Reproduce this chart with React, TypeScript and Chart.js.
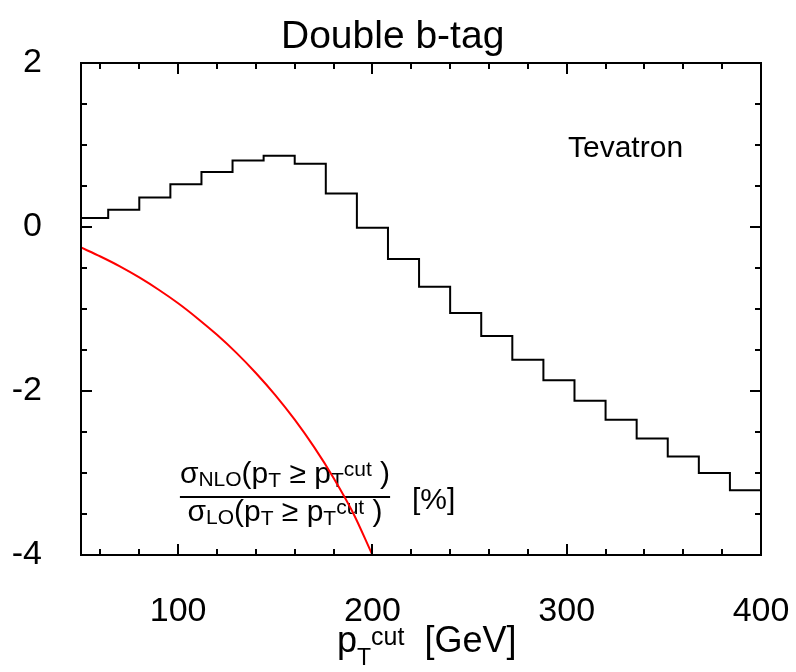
import React, { useEffect, useRef } from "react";
import { Chart, registerables } from "chart.js";

Chart.register(...registerables);

// ---- data ----
const binEdges = [48, 64, 80, 96, 112, 128, 144, 160, 176, 192, 208, 224, 240, 256, 272, 288, 304, 320, 336, 352, 368, 384, 400];
const binValues = [0.11, 0.21, 0.36, 0.52, 0.67, 0.81, 0.87, 0.77, 0.41, -0.01, -0.39, -0.73, -1.05, -1.33, -1.62, -1.87, -2.12, -2.35, -2.58, -2.8, -3.0, -3.21];

const curveX = [50, 60, 70, 80, 90, 100, 110, 120, 130, 140, 150, 160, 170, 180, 190, 200];
const curveY = [-0.25, -0.36, -0.48, -0.615, -0.765, -0.93, -1.115, -1.315, -1.535, -1.78, -2.05, -2.35, -2.685, -3.06, -3.485, -4.0];

const xTickValues = [100, 200, 300, 400];
const yTickValues = [-4, -2, 0, 2];
const xMinorTicks = [60, 80, 120, 140, 160, 180, 220, 240, 260, 280, 320, 340, 360, 380];
const yMinorTicks = [-3.5, -3, -2.5, -1.5, -1, -0.5, 0.5, 1, 1.5];
const xMajorInner = [100, 200, 300];
const yMajorInner = [-2, 0];

const titleText = "Double b-tag";
const annotationText = "Tevatron";

const FONT = "'Liberation Sans', Arial, Helvetica, sans-serif";

type Seg = { t: string; size: number; dy: number };

function richWidth(ctx: CanvasRenderingContext2D, segs: Seg[]) {
  let w = 0;
  for (const s of segs) {
    ctx.font = `${s.size}px ${FONT}`;
    w += ctx.measureText(s.t).width;
  }
  return w;
}

function drawRich(ctx: CanvasRenderingContext2D, segs: Seg[], x: number, y: number) {
  let cx = x;
  ctx.textAlign = "left";
  ctx.textBaseline = "alphabetic";
  for (const s of segs) {
    ctx.font = `${s.size}px ${FONT}`;
    ctx.fillText(s.t, cx, y + s.dy);
    cx += ctx.measureText(s.t).width;
  }
}

const textPlugin = {
  id: "textPlugin",
  beforeDatasetsDraw(chart: any) {
    const ctx: CanvasRenderingContext2D = chart.ctx;
    ctx.save();
    ctx.fillStyle = "#000";
    // title
    ctx.font = `39px ${FONT}`;
    ctx.textAlign = "left";
    ctx.textBaseline = "alphabetic";
    ctx.fillText(titleText, 281, 48);
    // annotation
    ctx.font = `30px ${FONT}`;
    ctx.fillText(annotationText, 568, 157);

    // x-axis title
    const xt: Seg[] = [
      { t: "p", size: 36, dy: 0 },
      { t: "T", size: 23, dy: 13 },
      { t: "cut", size: 25, dy: -7 },
      { t: "  [GeV]", size: 36, dy: 0 },
    ];
    drawRich(ctx, xt, 337, 652);

    // fraction label
    const num: Seg[] = [
      { t: "σ", size: 30, dy: 0 },
      { t: "NLO", size: 21, dy: 3 },
      { t: "(p", size: 30, dy: 0 },
      { t: "T", size: 21, dy: 4 },
      { t: " ≥ p", size: 30, dy: 0 },
      { t: "T", size: 21, dy: 4 },
      { t: "cut", size: 21, dy: -7 },
      { t: " )", size: 30, dy: 0 },
    ];
    const den: Seg[] = [
      { t: "σ", size: 30, dy: 0 },
      { t: "LO", size: 21, dy: 3 },
      { t: "(p", size: 30, dy: 0 },
      { t: "T", size: 21, dy: 4 },
      { t: " ≥ p", size: 30, dy: 0 },
      { t: "T", size: 21, dy: 4 },
      { t: "cut", size: 21, dy: -7 },
      { t: " )", size: 30, dy: 0 },
    ];
    const wn = richWidth(ctx, num);
    const wd = richWidth(ctx, den);
    const cxm = 285;
    drawRich(ctx, num, cxm - wn / 2, 483);
    drawRich(ctx, den, cxm - wd / 2, 521);
    const w = Math.max(wn, wd);
    ctx.strokeStyle = "#000";
    ctx.lineWidth = 2;
    ctx.beginPath();
    ctx.moveTo(cxm - w / 2, 497);
    ctx.lineTo(cxm + w / 2, 497);
    ctx.stroke();
    ctx.font = `30px ${FONT}`;
    ctx.fillText("[%]", 412, 509);
    ctx.restore();
  },
  afterDraw(chart: any) {
    const ctx: CanvasRenderingContext2D = chart.ctx;
    const { left, right, top, bottom } = chart.chartArea;
    const xs = chart.scales.x;
    const ys = chart.scales.y;
    ctx.save();
    ctx.strokeStyle = "#000";
    ctx.lineWidth = 2;
    ctx.beginPath();
    const tick = (x1: number, y1: number, x2: number, y2: number) => {
      ctx.moveTo(x1, y1);
      ctx.lineTo(x2, y2);
    };
    for (const v of xMinorTicks) {
      const p = Math.round(xs.getPixelForValue(v));
      tick(p, bottom, p, bottom - 6);
      tick(p, top, p, top + 6);
    }
    for (const v of xMajorInner) {
      const p = Math.round(xs.getPixelForValue(v));
      tick(p, bottom, p, bottom - 11);
      tick(p, top, p, top + 11);
    }
    for (const v of yMinorTicks) {
      const p = Math.round(ys.getPixelForValue(v));
      tick(left, p, left + 6, p);
      tick(right, p, right - 6, p);
    }
    for (const v of yMajorInner) {
      const p = Math.round(ys.getPixelForValue(v));
      tick(left, p, left + 11, p);
      tick(right, p, right - 11, p);
    }
    ctx.stroke();
    ctx.strokeRect(left, top, right - left, bottom - top);
    ctx.restore();
  },
};

export default function App() {
  const ref = useRef<HTMLCanvasElement | null>(null);

  useEffect(() => {
    if (!ref.current) return;
    const stepData = binEdges.map((e, i) => ({ x: e, y: binValues[Math.min(i, binValues.length - 1)] }));
    const curveData = curveX.map((x, i) => ({ x, y: curveY[i] }));
    const chart = new Chart(ref.current, {
      type: "line",
      data: {
        datasets: [
          {
            data: stepData,
            borderColor: "#000",
            borderWidth: 2,
            stepped: "before",
            pointRadius: 0,
            fill: false,
          },
          {
            data: curveData,
            borderColor: "#ff0000",
            borderWidth: 2,
            cubicInterpolationMode: "monotone",
            pointRadius: 0,
            fill: false,
          },
        ],
      },
      options: {
        responsive: false,
        animation: false,
        devicePixelRatio: 1,
        layout: { padding: { top: 63, right: 35, left: 0, bottom: 0 } },
        plugins: {
          legend: { display: false },
          title: { display: false },
          tooltip: { enabled: false },
        },
        events: [],
        scales: {
          x: {
            type: "linear",
            min: 50,
            max: 400,
            grid: { display: false, drawTicks: false },
            border: { display: false },
            afterBuildTicks: (s: any) => {
              s.ticks = xTickValues.map((v) => ({ value: v }));
            },
            afterFit: (s: any) => {
              s.height = 117;
              s.paddingLeft = 0;
              s.paddingRight = 0;
            },
            ticks: {
              color: "#000",
              padding: 36,
              maxRotation: 0,
              autoSkip: false,
              font: { family: FONT, size: 34 },
              callback: (v: any) => String(v),
            },
          },
          y: {
            type: "linear",
            min: -4,
            max: 2,
            grid: { display: false, drawTicks: false },
            border: { display: false },
            afterBuildTicks: (s: any) => {
              s.ticks = yTickValues.map((v) => ({ value: v }));
            },
            afterFit: (s: any) => {
              s.width = 81;
              s.paddingTop = 0;
              s.paddingBottom = 0;
            },
            ticks: {
              color: "#000",
              padding: 39,
              autoSkip: false,
              font: { family: FONT, size: 34 },
              callback: (v: any) => String(v),
            },
          },
        },
      },
      plugins: [textPlugin],
    } as any);
    return () => chart.destroy();
  }, []);

  return (
    <div style={{ position: "absolute", left: 0, top: 0, width: 796, height: 672, background: "#fff" }}>
      <canvas ref={ref} width={796} height={672} style={{ width: 796, height: 672 }} />
    </div>
  );
}
